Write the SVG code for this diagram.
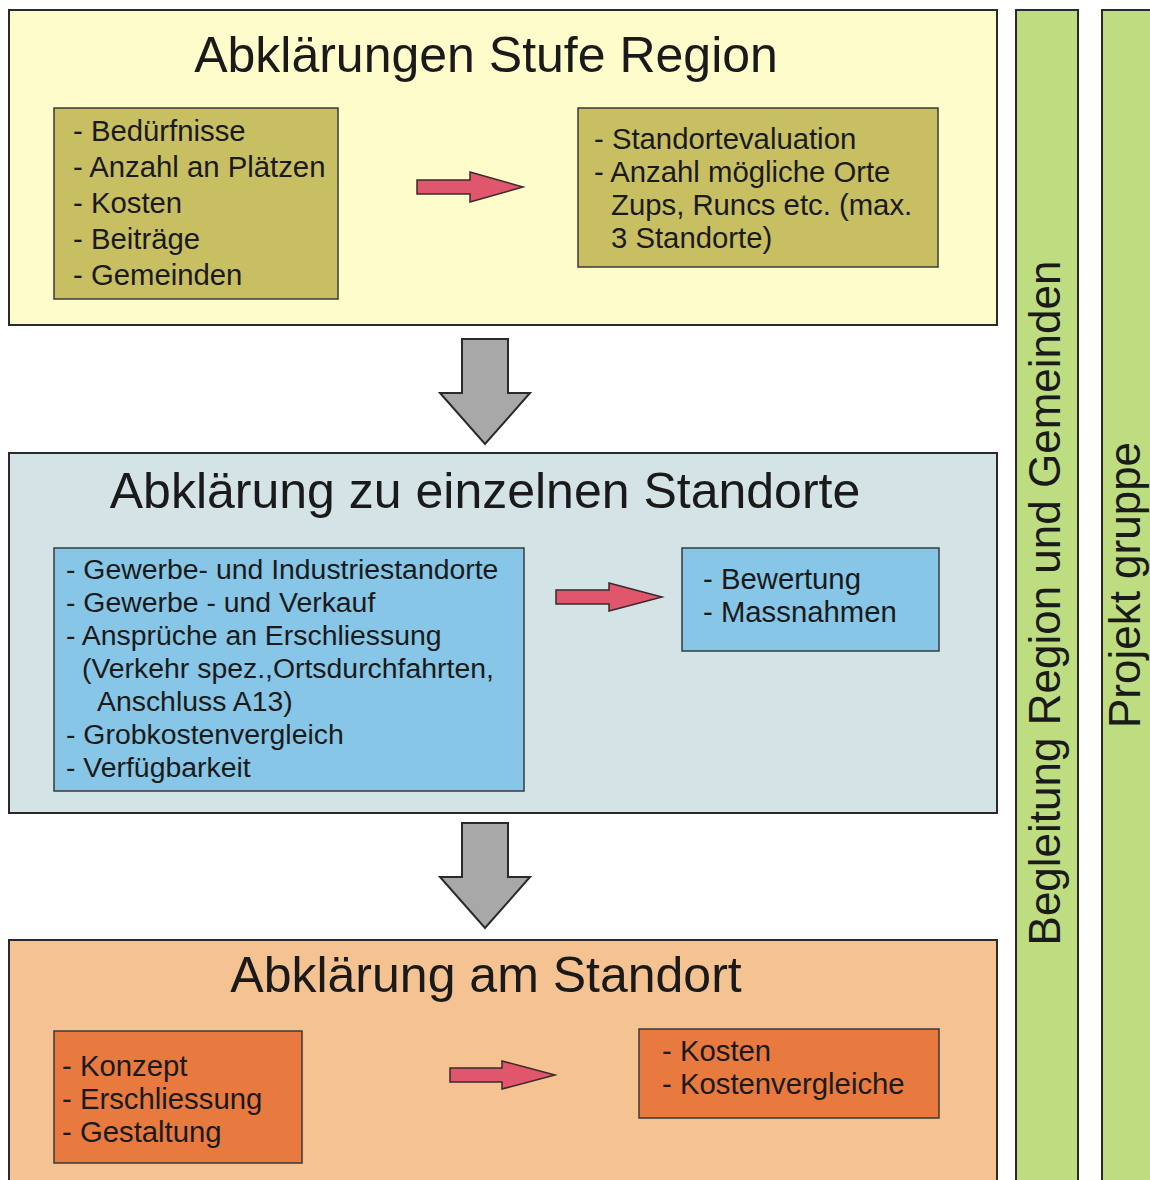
<svg xmlns="http://www.w3.org/2000/svg" width="1150" height="1180" viewBox="0 0 1150 1180">
<style>
.panel{stroke:#2a2a2a;stroke-width:2}
.box{stroke:#3a3a3a;stroke-width:1.5}
.title{font-family:"Liberation Sans",Arial,sans-serif;font-size:50px;fill:#1a1a1a;text-anchor:middle}
.t{font-family:"Liberation Sans",Arial,sans-serif;font-size:29.3px;fill:#1a1a1a}
.t28{font-family:"Liberation Sans",Arial,sans-serif;font-size:28.4px;fill:#1a1a1a}
.v{font-family:"Liberation Sans",Arial,sans-serif;font-size:44px;fill:#1a1a1a;text-anchor:middle}
.red{fill:#e0566c;stroke:#3a2a2a;stroke-width:1.5}
.gray{fill:#a8a8a8;stroke:#2a2a2a;stroke-width:2}
</style>
<rect width="1150" height="1180" fill="#ffffff"/>

<g id="side-begleitung">
<rect x="1016" y="10" width="62" height="1180" fill="#bedd80" class="panel"/>
<text class="v" transform="translate(1060,603) rotate(-90)">Begleitung Region und Gemeinden</text>
</g>
<g id="side-projektgruppe">
<rect x="1102" y="10" width="60" height="1180" fill="#bedd80" class="panel"/>
<text class="v" transform="translate(1140,585) rotate(-90)">Projekt gruppe</text>
</g>

<g id="panel-region">
<rect x="9" y="10" width="988" height="315" fill="#fffccc" class="panel"/>
<text class="title" x="486" y="72">Abklärungen Stufe Region</text>
</g>
<g id="box-region-left">
<rect x="54" y="108" width="284" height="191" fill="#c8bf62" class="box"/>
<text class="t" x="73" y="141">- Bedürfnisse</text>
<text class="t" x="73" y="177">- Anzahl an Plätzen</text>
<text class="t" x="73" y="213">- Kosten</text>
<text class="t" x="73" y="249">- Beiträge</text>
<text class="t" x="73" y="285">- Gemeinden</text>
</g>
<g id="box-region-right">
<rect x="578" y="108" width="360" height="159" fill="#c8bf62" class="box"/>
<text class="t" x="594" y="149">- Standortevaluation</text>
<text class="t" x="594" y="182">- Anzahl mögliche Orte</text>
<text class="t" x="611" y="215">Zups, Runcs etc. (max.</text>
<text class="t" x="611" y="248">3 Standorte)</text>
</g>

<g id="panel-standorte">
<rect x="9" y="453" width="988" height="360" fill="#d4e4e6" class="panel"/>
<text class="title" x="485" y="508">Abklärung zu einzelnen Standorte</text>
</g>
<g id="box-standorte-left">
<rect x="54" y="548" width="470" height="243" fill="#87c6e6" class="box"/>
<text class="t28" x="66" y="579">- Gewerbe- und Industriestandorte</text>
<text class="t28" x="66" y="612">- Gewerbe - und Verkauf</text>
<text class="t28" x="66" y="645">- Ansprüche an Erschliessung</text>
<text class="t28" x="82" y="678">(Verkehr spez.,Ortsdurchfahrten,</text>
<text class="t28" x="97" y="711">Anschluss A13)</text>
<text class="t28" x="66" y="744">- Grobkostenvergleich</text>
<text class="t28" x="66" y="777">- Verfügbarkeit</text>
</g>
<g id="box-standorte-right">
<rect x="682" y="548" width="257" height="103" fill="#87c6e6" class="box"/>
<text class="t" x="703" y="589">- Bewertung</text>
<text class="t" x="703" y="622">- Massnahmen</text>
</g>

<g id="panel-standort">
<rect x="9" y="940" width="988" height="260" fill="#f5c391" class="panel"/>
<text class="title" x="486" y="992">Abklärung am Standort</text>
</g>
<g id="box-standort-left">
<rect x="54" y="1031" width="248" height="132" fill="#e8793f" class="box"/>
<text class="t" x="62" y="1076">- Konzept</text>
<text class="t" x="62" y="1109">- Erschliessung</text>
<text class="t" x="62" y="1142">- Gestaltung</text>
</g>
<g id="box-standort-right">
<rect x="639" y="1029" width="300" height="89" fill="#e8793f" class="box"/>
<text class="t" x="662" y="1061">- Kosten</text>
<text class="t" x="662" y="1094">- Kostenvergleiche</text>
</g>

<g id="connectors">
<polygon class="red" points="417,180 470,180 470,172 523,187 470,202 470,194 417,194"/>
<polygon class="red" points="556,590 609,590 609,583 662,597 609,611 609,604 556,604"/>
<polygon class="red" points="450,1068 502,1068 502,1061 555,1075 502,1089 502,1082 450,1082"/>
<polygon class="gray" points="462,339 508,339 508,393 530,393 485,444 440,393 462,393"/>
<polygon class="gray" points="462,823 508,823 508,877 530,877 485,928 440,877 462,877"/>
</g>
</svg>
